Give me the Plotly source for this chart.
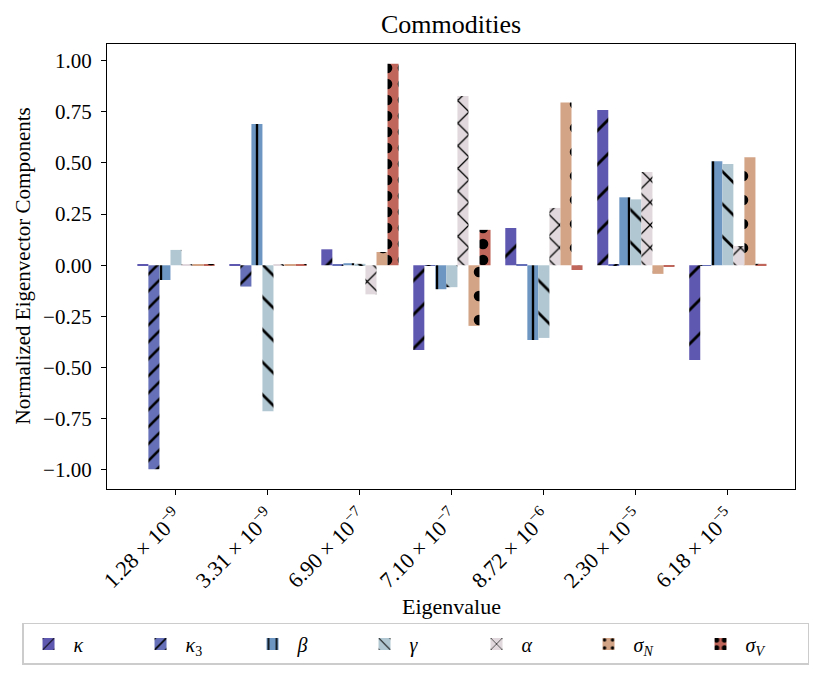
import plotly.graph_objects as go

eigen_labels = ["1.28 × 10<sup>−9</sup>", "3.31 × 10<sup>−9</sup>", "6.90 × 10<sup>−7</sup>",
                "7.10 × 10<sup>−7</sup>", "8.72 × 10<sup>−6</sup>", "2.30 × 10<sup>−5</sup>",
                "6.18 × 10<sup>−5</sup>"]
series_names = ["<i>κ</i>", "<i>κ</i><sub>3</sub>", "<i>β</i>", "<i>γ</i>", "<i>α</i>",
                "<i>σ</i><sub><i>N</i></sub>", "<i>σ</i><sub><i>V</i></sub>"]

kappa   = [0.005, 0.002, 0.078, -0.414, 0.182, 0.759, -0.463]
kappa3  = [-0.997, -0.104, 0.003, -0.003, 0.003, 0.003, -0.003]
beta    = [-0.072, 0.690, 0.010, -0.117, -0.365, 0.332, 0.508]
gamma   = [0.075, -0.713, 0.007, -0.107, -0.355, 0.322, 0.495]
alpha   = [0.002, 0.002, -0.142, 0.827, 0.280, 0.456, 0.094]
sigma_n = [0.002, 0.002, 0.065, -0.296, 0.795, -0.042, 0.528]
sigma_v = [0.002, 0.002, 0.984, 0.173, -0.023, -0.005, 0.007]

values = [kappa, kappa3, beta, gamma, alpha, sigma_n, sigma_v]
colors = ["#5f58b1", "#6670b9", "#6e96c3", "#b1c8d2", "#e0d8dc", "#d3a486", "#c0665a"]
patterns = [("/", 24, 0.12), ("/", 12, 0.22), ("|", 12, 0.2), ("\\", 23, 0.12),
            ("x", 16, 0.15), (".", 24, 0.15), (".", 16, 0.35)]

x = list(range(len(eigen_labels)))
fig = go.Figure()
for name, vals, col, (shp, sz, sol) in zip(series_names, values, colors, patterns):
    fig.add_trace(go.Bar(
        x=x, y=vals, name=name,
        marker=dict(color=col, line=dict(width=0),
                    pattern=dict(shape=shp, size=sz, solidity=sol, fgcolor="black",
                                 bgcolor=col, fillmode="replace")),
    ))

font = "Liberation Serif"
fig.update_layout(
    width=813, height=674,
    margin=dict(l=107, r=18, t=44, b=185, autoexpand=False),
    plot_bgcolor="white", paper_bgcolor="white",
    font=dict(family=font, size=21, color="black"),
    barmode="group", bargap=0.16, bargroupgap=0,
    title=dict(text="Commodities", x=0.5, xref="paper", xanchor="center",
               y=1 - 24 / 674, yref="container", yanchor="middle", font=dict(size=26)),
    legend=dict(orientation="h", x=-0.1235, xanchor="left", y=-0.301, yanchor="top",
                bordercolor="#cccccc", borderwidth=1.5, entrywidth=57,
                entrywidthmode="pixels", font=dict(size=20), itemwidth=40),
    showlegend=True,
)
fig.update_xaxes(range=[-0.75, 6.73], tickvals=x, ticktext=eigen_labels, tickangle=-45,
                 showline=True, linecolor="black", linewidth=1.2, mirror=True,
                 ticks="outside", ticklen=5, tickcolor="black", showgrid=False,
                 zeroline=False, tickfont=dict(size=22), automargin=False)
fig.update_yaxes(range=[-1.093, 1.081], tickvals=[-1, -0.75, -0.5, -0.25, 0, 0.25, 0.5, 0.75, 1],
                 tickformat=".2f", showline=True, linecolor="black", linewidth=1.2, mirror=True,
                 ticks="outside", ticklen=5, tickcolor="black", showgrid=False, zeroline=False,
                 tickfont=dict(size=21), automargin=False, ticklabelstandoff=5)
fig.add_annotation(text="Normalized Eigenvector Components", xref="paper", yref="paper",
                   x=-0.1235, y=0.5, xanchor="center", yanchor="middle", textangle=-90,
                   showarrow=False, font=dict(size=21))
fig.add_annotation(text="Eigenvalue", xref="paper", yref="paper", x=0.5, y=-0.263,
                   xanchor="center", yanchor="middle", showarrow=False, font=dict(size=22))
fig.write_html("out.html", config={"displayModeBar": False},
               post_script="document.body.style.margin='0';")
